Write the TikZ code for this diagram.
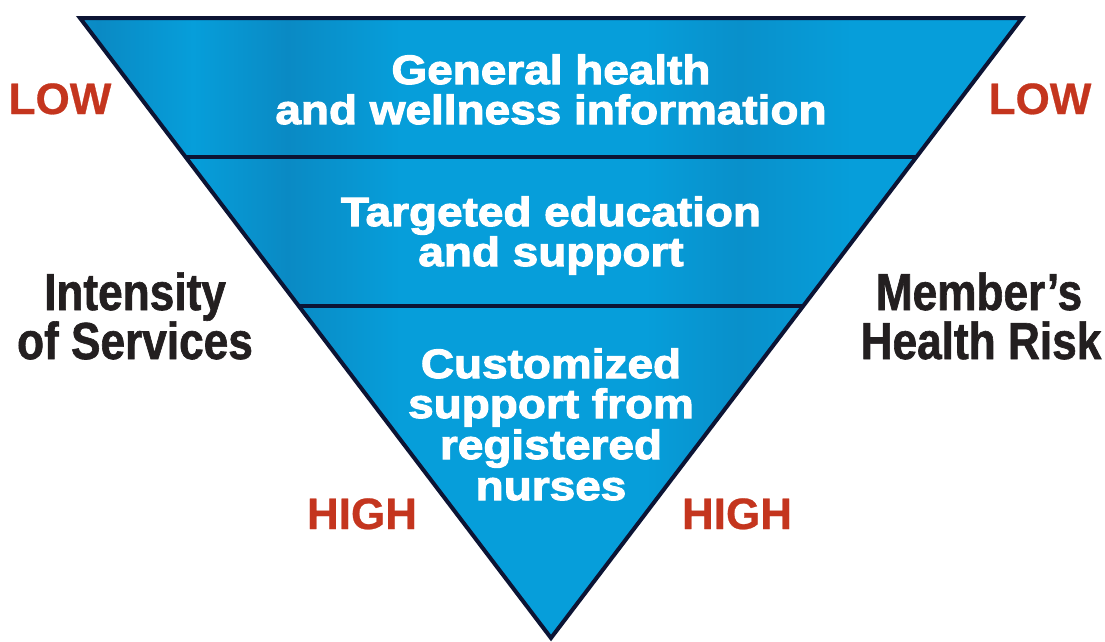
\documentclass[tikz,border=0pt]{standalone}
\usepackage{fontspec}
\setmainfont{Liberation Sans}
\newfontfamily\heavyfont{Liberation Sans}[FakeBold=2.6,FakeStretch=1.12]
\newfontfamily\condfont{Liberation Sans}[FakeBold=1.2,FakeStretch=0.85]
\newfontfamily\plainbold{Liberation Sans}[FakeBold=0.6]
\definecolor{pyrblue}{HTML}{069EDA}
\definecolor{pyrdark}{HTML}{0A8AC4}
\definecolor{edgenavy}{HTML}{0C1434}
\definecolor{lowred}{HTML}{C4351E}
\definecolor{inkblack}{HTML}{231F20}
\pgfdeclarehorizontalshading{streaks}{100bp}{
  color(0bp)=(pyrblue); color(20bp)=(pyrblue); color(26bp)=(pyrdark);
  color(31bp)=(pyrblue); color(36bp)=(pyrdark); color(42bp)=(pyrblue);
  color(55bp)=(pyrblue); color(60bp)=(pyrdark!70!pyrblue); color(66bp)=(pyrblue);
  color(78bp)=(pyrblue); color(83bp)=(pyrdark); color(88bp)=(pyrblue);
  color(100bp)=(pyrblue)}
\tikzset{
  tiertext/.style={text=white, font=\heavyfont\bfseries\fontsize{41}{41}\selectfont, anchor=base, inner sep=0pt, text height=30pt, text depth=8pt},
  sidetext/.style={text=inkblack, font=\condfont\bfseries\fontsize{52}{52}\selectfont, anchor=base, inner sep=0pt, text height=37pt, text depth=9pt},
  leveltext/.style={text=lowred, font=\plainbold\bfseries\fontsize{44}{44}\selectfont, anchor=base, inner sep=0pt},
  edge/.style={draw=edgenavy, line width=4pt, line join=miter},
}
\begin{document}
\begin{tikzpicture}[x=1pt,y=-1pt]
\useasboundingbox (0,0) rectangle (1105,641);
% triangle
\coordinate (tl) at (80,18);
\coordinate (tr) at (1022,18);
\coordinate (ap) at (551,638);
\shade[shading=streaks] (tl) -- (tr) -- (ap) -- cycle;
\coordinate (d1l) at (185.6,157);
\coordinate (d1r) at (916.4,157);
\coordinate (d2l) at (298.8,306);
\coordinate (d2r) at (803.2,306);
\draw[edge, line width=3.5pt] (d1l) -- (d1r);
\draw[edge, line width=3.5pt] (d2l) -- (d2r);
\draw[edge] (tl) -- (tr) -- (ap) -- cycle;
% tier texts
\node[tiertext] (t1a) at (551,84) {General health};
\node[tiertext] (t1b) at (551,124) {and wellness information};
\node[tiertext] (t2a) at (551,226) {Targeted education};
\node[tiertext] (t2b) at (551,266) {and support};
\node[tiertext] (t3a) at (551,378) {Customized};
\node[tiertext] (t3b) at (551,418) {support from};
\node[tiertext] (t3c) at (551,459) {registered};
\node[tiertext] (t3d) at (551,500) {nurses};
% side labels
\node[sidetext] (l1) at (135,310) {Intensity};
\node[sidetext] (l2) at (135,359) {of Services};
\node[sidetext] (r1) at (979,310) {Member’s};
\node[sidetext] (r2) at (981,359) {Health Risk};
\node[leveltext] (lowl) at (60,114) {LOW};
\node[leveltext] (lowr) at (1040,114) {LOW};
\node[leveltext] (highl) at (362,529) {HIGH};
\node[leveltext] (highr) at (737,529) {HIGH};
\end{tikzpicture}
\end{document}
